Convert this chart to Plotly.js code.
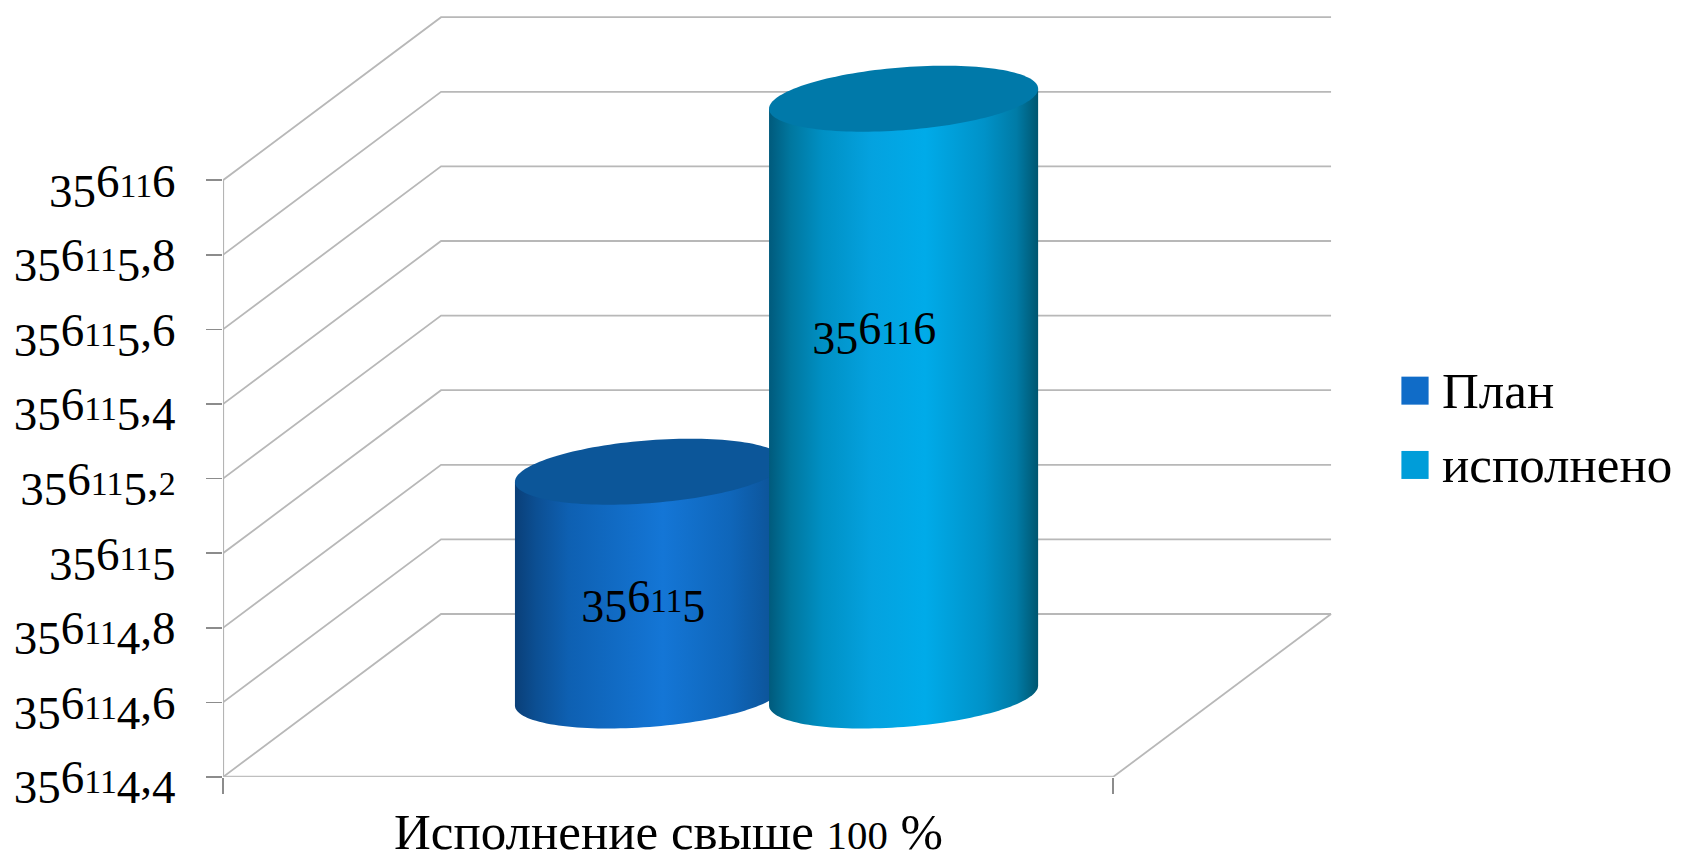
<!DOCTYPE html>
<html><head><meta charset="utf-8">
<script src="https://cdn.plot.ly/plotly-3.0.1.min.js"></script>
<style>
html,body{margin:0;padding:0;background:#fff;overflow:hidden}
#c{width:1681px;height:860px}
.legend .scrollbox{clip-path:none !important}
.legend .legendpoints path.scatterpts{transform:translate(13px,3px) scale(1.7,1.75)}
</style></head><body>
<div id="c"></div>
<script>
const categories=['Исполнение свыше 100 %'];
const seriesNames=['План','исполнено'];
const planValues=[356115];
const doneValues=[356116];
const tickValues=[356114.4,356114.6,356114.8,356115,356115.2,356115.4,356115.6,356115.8,356116];
const tickLabels=['356114,4','356114,6','356114,8','356115','356115,2','356115,4','356115,6','356115,8','356116'];

const FONT='"Liberation Serif",serif';
const yMin=tickValues[0];
const DX=0.245, DY=0.437;
const RX=0.144, SKX=0.046, RY=0.0885;
const SLOT=[0.5-0.1433,0.5+0.1422];
const LABEL_DX=[-0.007,-0.033];
const XMAX=1112/890, YMAX=yMin+767/373;

function oldStyle(s){
  let o='';
  for(const ch of s){
    if('3457 9'.includes(ch)&&ch!==' ') o+='<span style="baseline-shift:-0.21em">'+ch+'</span>';
    else if('012'.includes(ch)) o+='<span style="font-size:72%">'+ch+'</span>';
    else o+=ch;
  }
  return o;
}
function ell(cx,cy,t){return [cx+RX*Math.cos(t)+SKX*Math.sin(t),cy+RY*Math.sin(t)];}
const T0=Math.atan2(SKX,RX);
function cylinder(value,slot,stops,topColor){
  const cx=slot+DX/2, yTop=value+DY/2, yBot=yMin+DY/2;
  const bx=[],by=[],tx=[],ty=[];
  for(let i=0;i<=72;i++){
    const p=ell(cx,yBot,T0+Math.PI+Math.PI*i/72);
    bx.push(p[0]);by.push(p[1]);
  }
  const r=ell(cx,yTop,T0), l=ell(cx,yTop,T0+Math.PI);
  bx.push(r[0],l[0]);by.push(r[1],l[1]);
  for(let i=0;i<=144;i++){
    const p=ell(cx,yTop,2*Math.PI*i/144);
    tx.push(p[0]);ty.push(p[1]);
  }
  return [
    {x:bx,y:by,type:'scatter',mode:'none',fill:'toself',hoverinfo:'skip',showlegend:false,
     fillgradient:{type:'horizontal',colorscale:stops}},
    {x:tx,y:ty,type:'scatter',mode:'none',fill:'toself',fillcolor:topColor,hoverinfo:'skip',showlegend:false}
  ];
}
const gx=[],gy=[];
for(const v of tickValues){
  gx.push(0,DX,1+DX,null);
  gy.push(v,v+DY,v+DY,null);
}
const GRID={color:'#B8B8B8',width:1.8};
const gridTrace={x:gx,y:gy,type:'scatter',mode:'lines',line:GRID,hoverinfo:'skip',showlegend:false};
const floorTrace={x:[1,1+DX],y:[yMin,yMin+DY],type:'scatter',mode:'lines',line:GRID,hoverinfo:'skip',showlegend:false};
const wallTrace={x:[0,0],y:[yMin,tickValues[tickValues.length-1]],type:'scatter',mode:'lines',line:{color:'#B4B4B4',width:2.2},hoverinfo:'skip',showlegend:false};
const baseTrace={x:[0,1],y:[yMin,yMin],type:'scatter',mode:'lines',line:{color:'#BFBFBF',width:2.4},hoverinfo:'skip',showlegend:false};

function legendTrace(i,val,color){
  return {x:[SLOT[i]+DX/2],y:[val+DY/2],type:'scatter',mode:'markers',name:seriesNames[i],legendgroup:'g'+i,
    marker:{symbol:'square',size:16,color:color},hoverinfo:'skip'};
}
function labelTrace(i,val){
  return {x:[SLOT[i]+DX/2+LABEL_DX[i]],y:[val-0.2825*(val-yMin)+0.0435],type:'scatter',mode:'text',
    text:[oldStyle(String(val))],textposition:'middle center',textfont:{family:FONT,size:46,color:'#000'},
    hoverinfo:'skip',showlegend:false};
}
const planStops=[[0,'#0A3F78'],[0.08,'#0C4F93'],[0.2,'#0E60B2'],[0.55,'#1476D6'],[0.8,'#0F66BA'],[1,'#0C4F90']];
const doneStops=[[0,'#005A7C'],[0.08,'#00779F'],[0.2,'#0090C4'],[0.38,'#04A2DF'],[0.58,'#00ABE9'],[0.8,'#0092C8'],[0.92,'#007BA6'],[1,'#005670']];

const traces=[gridTrace,floorTrace,wallTrace,baseTrace,
  legendTrace(0,planValues[0],'#106CC8'),legendTrace(1,doneValues[0],'#009DD9'),
  ...cylinder(planValues[0],SLOT[0],planStops,'#0C5699'),
  ...cylinder(doneValues[0],SLOT[1],doneStops,'#0079A9'),
  labelTrace(0,planValues[0]),
  labelTrace(1,doneValues[0])];

const layout={
  width:1681,height:860,paper_bgcolor:'#fff',plot_bgcolor:'#fff',
  margin:{l:223,r:346,t:10,b:83,pad:0},
  font:{family:FONT,color:'#000'},
  xaxis:{range:[0,XMAX],showgrid:false,zeroline:false,showline:false,
    tickmode:'array',tickvals:[0,1],ticktext:['',''],ticks:'outside',ticklen:16,tickcolor:'#8C8C8C',tickwidth:1.5},
  yaxis:{range:[yMin,YMAX],showgrid:false,zeroline:false,showline:false,
    tickmode:'array',tickvals:tickValues,ticktext:tickLabels.map(oldStyle),ticks:'outside',ticklen:16,tickcolor:'#8C8C8C',tickwidth:1.5,
    tickfont:{family:FONT,size:47,color:'#000'},ticklabelstandoff:21},
  annotations:[{xref:'x',yref:'paper',x:0.5,y:0,yanchor:'top',xanchor:'center',yshift:-25,showarrow:false,
    text:categories[0].replace('100','<span style="font-size:80%">100</span>'),font:{family:FONT,size:51,color:'#000'}}],
  showlegend:true,
  legend:{xref:'container',yref:'container',x:1402/1681,y:1-348/860,xanchor:'left',yanchor:'top',
    font:{family:FONT,size:51,color:'#000'},tracegroupgap:5,itemclick:false,itemdoubleclick:false,bgcolor:'rgba(0,0,0,0)'}
};
Plotly.newPlot('c',traces,layout,{displayModeBar:false,staticPlot:true});
</script></body></html>
